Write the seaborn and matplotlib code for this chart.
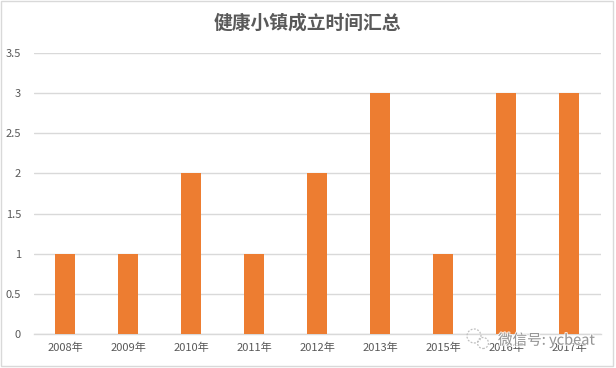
import pandas as pd
import matplotlib
matplotlib.use("Agg")
import matplotlib.pyplot as plt
import matplotlib.patheffects as pe
from matplotlib.patches import Rectangle, Circle
import seaborn as sns

years = ["2008年", "2009年", "2010年", "2011年", "2012年", "2013年", "2015年", "2016年", "2017年"]
counts = [1, 1, 2, 1, 2, 3, 1, 3, 3]
y_ticks = [0, 0.5, 1, 1.5, 2, 2.5, 3, 3.5]
y_labels = ["0", "0.5", "1", "1.5", "2", "2.5", "3", "3.5"]

W, H = 616, 368

sns.set_theme(style="white")
plt.rcParams["font.family"] = ["Noto Sans CJK SC", "DejaVu Sans"]

df = pd.DataFrame({"year": years, "count": counts})

fig = plt.figure(figsize=(W / 100, H / 100), dpi=100, facecolor="white")
ax = fig.add_axes([33.5 / W, 1 - 334 / H, 567 / W, 281 / H])

sns.barplot(x="year", y="count", data=df, color="#ED7D31", saturation=1, width=0.32,
            linewidth=0, ax=ax, zorder=3)
ax.set_xlim(-0.5, len(years) - 0.5)
ax.set_ylim(0, 3.5)
ax.set_xlabel("")
ax.set_ylabel("")
ax.set_yticks(y_ticks)
ax.set_yticklabels(y_labels)
ax.grid(axis="y", color="#D9D9D9", linewidth=1)
ax.set_axisbelow(True)
for side in ["top", "right", "left"]:
    ax.spines[side].set_visible(False)
ax.spines["bottom"].set_color("#D9D9D9")
ax.spines["bottom"].set_linewidth(1)
ax.tick_params(axis="both", length=0, labelsize=8, labelcolor="#595959")
ax.tick_params(axis="x", pad=6)
ax.tick_params(axis="y", pad=9)

fig.text(307 / W, 1 - 23 / H, "健康小镇成立时间汇总", ha="center", va="center",
         fontsize=13.5, fontweight="bold", color="#595959")

# outer chart frame
fig.add_artist(Rectangle((1 / W, 1 - 366 / H), 612 / W, 365 / H, transform=fig.transFigure,
                         fill=False, edgecolor="#D9D9D9", linewidth=1))

# watermark
halo = [pe.withStroke(linewidth=1.5, foreground="white", alpha=0.8)]
fig.text(498 / W, 1 - 340 / H, "微信号: ycbeat", ha="left", va="center", fontsize=10.5,
         color="#8C8C8C", alpha=0.9, path_effects=halo, zorder=10)
for cx, cy, r in [(474, 336, 7), (483, 343, 5.5)]:
    fig.add_artist(Circle((cx, H - cy), r, transform=None, fill=False,
                          edgecolor="#BFBFBF", linewidth=0.9, linestyle=(0, (1.5, 1.2))))

fig.savefig("out.png", dpi=100)
